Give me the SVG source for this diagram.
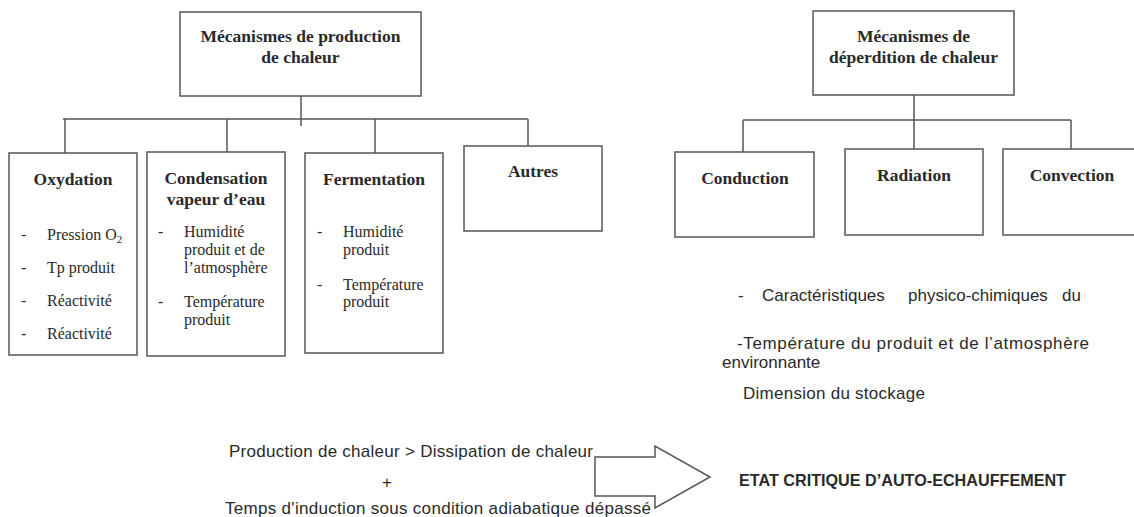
<svg xmlns="http://www.w3.org/2000/svg" width="1134" height="517" viewBox="0 0 1134 517">
<style>
.box{fill:#fff;stroke:#555;stroke-width:1.5}
.conn line{stroke:#555;stroke-width:1.5}
.tb{font-family:"Liberation Serif","Times New Roman",serif;font-weight:bold;font-size:17.5px;fill:#2a2a2a;text-anchor:middle}
.tr{font-family:"Liberation Serif","Times New Roman",serif;font-size:16px;fill:#2a2a2a}
.sa{font-family:"Liberation Sans",Arial,sans-serif;font-size:17px;fill:#2a2a2a}
.sb{font-family:"Liberation Sans",Arial,sans-serif;font-size:16.5px;font-weight:bold;fill:#2a2a2a}
</style>
<rect width="1134" height="517" fill="#fff"/>
<g id="connectors" class="conn">
<line x1="301" y1="83" x2="301" y2="126"/>
<line x1="63" y1="119" x2="528" y2="119"/>
<line x1="65" y1="119" x2="65" y2="162"/>
<line x1="227" y1="119" x2="227" y2="161"/>
<line x1="375" y1="119" x2="375" y2="162"/>
<line x1="528" y1="119" x2="528" y2="160"/>
<line x1="914" y1="83" x2="914" y2="157"/>
<line x1="743" y1="120" x2="1071" y2="120"/>
<line x1="743" y1="120" x2="743" y2="152"/>
<line x1="1071" y1="120" x2="1071" y2="163"/>
</g>
<g id="prod">
<rect class="box" x="180" y="12" width="241" height="84"/>
<text class="tb" x="300.5" y="42">Mécanismes de production</text>
<text class="tb" x="300.5" y="63">de chaleur</text>
</g>
<g id="oxydation">
<rect class="box" x="9" y="153" width="128" height="202"/>
<text class="tb" x="73" y="185">Oxydation</text>
<text class="tr" x="21" y="240">-</text><text class="tr" x="47" y="240">Pression O<tspan font-size="11" dy="3">2</tspan></text>
<text class="tr" x="21" y="273">-</text><text class="tr" x="47" y="273">Tp produit</text>
<text class="tr" x="21" y="306">-</text><text class="tr" x="47" y="306">Réactivité</text>
<text class="tr" x="21" y="339">-</text><text class="tr" x="47" y="339">Réactivité</text>
</g>
<g id="condensation">
<rect class="box" x="147" y="152" width="138" height="204"/>
<text class="tb" x="216" y="184">Condensation</text>
<text class="tb" x="216" y="205">vapeur d’eau</text>
<text class="tr" x="158" y="237">-</text>
<text class="tr" x="184" y="237">Humidité</text>
<text class="tr" x="184" y="255">produit et de</text>
<text class="tr" x="184" y="273">l’atmosphère</text>
<text class="tr" x="158" y="307">-</text>
<text class="tr" x="184" y="307">Température</text>
<text class="tr" x="184" y="325">produit</text>
</g>
<g id="fermentation">
<rect class="box" x="305" y="153" width="138" height="200"/>
<text class="tb" x="374" y="185">Fermentation</text>
<text class="tr" x="317" y="237">-</text>
<text class="tr" x="343" y="237">Humidité</text>
<text class="tr" x="343" y="255">produit</text>
<text class="tr" x="317" y="290">-</text>
<text class="tr" x="343" y="290">Température</text>
<text class="tr" x="343" y="307">produit</text>
</g>
<g id="autres">
<rect class="box" x="464" y="146" width="138" height="85"/>
<text class="tb" x="533" y="177">Autres</text>
</g>
<g id="deperdition">
<rect class="box" x="813" y="11" width="201" height="84"/>
<text class="tb" x="913.5" y="42">Mécanismes de</text>
<text class="tb" x="913.5" y="63">déperdition de chaleur</text>
</g>
<g id="conduction">
<rect class="box" x="675" y="152" width="139" height="85"/>
<text class="tb" x="745" y="184">Conduction</text>
</g>
<g id="radiation">
<rect class="box" x="845" y="149" width="138" height="86"/>
<text class="tb" x="914" y="181">Radiation</text>
</g>
<g id="convection">
<rect class="box" x="1003" y="149" width="140" height="86"/>
<text class="tb" x="1072" y="181">Convection</text>
</g>
<g id="facteurs">
<text class="sa" x="738" y="301">-</text>
<text class="sa" x="762" y="301">Caractéristiques</text>
<text class="sa" x="908" y="301">physico-chimiques</text>
<text class="sa" x="1062" y="301">du</text>
<text class="sa" x="737" y="349" textLength="352">-Température du produit et de l’atmosphère</text>
<text class="sa" x="722" y="368">environnante</text>
<text class="sa" x="743" y="399" textLength="182">Dimension du stockage</text>
</g>
<g id="fleche">
<polygon class="box" points="595,457 655,457 655,446 710,477 655,508 655,496 595,496"/>
</g>
<g id="condition">
<text class="sa" x="229" y="457" textLength="364">Production de chaleur &gt; Dissipation de chaleur</text>
<text class="sa" x="387" y="488" text-anchor="middle">+</text>
<text class="sa" x="225" y="514" textLength="426">Temps d'induction sous condition adiabatique dépassé</text>
</g>
<g id="etat">
<text class="sb" x="739" y="486" textLength="327" lengthAdjust="spacingAndGlyphs">ETAT CRITIQUE D’AUTO-ECHAUFFEMENT</text>
</g>
</svg>
